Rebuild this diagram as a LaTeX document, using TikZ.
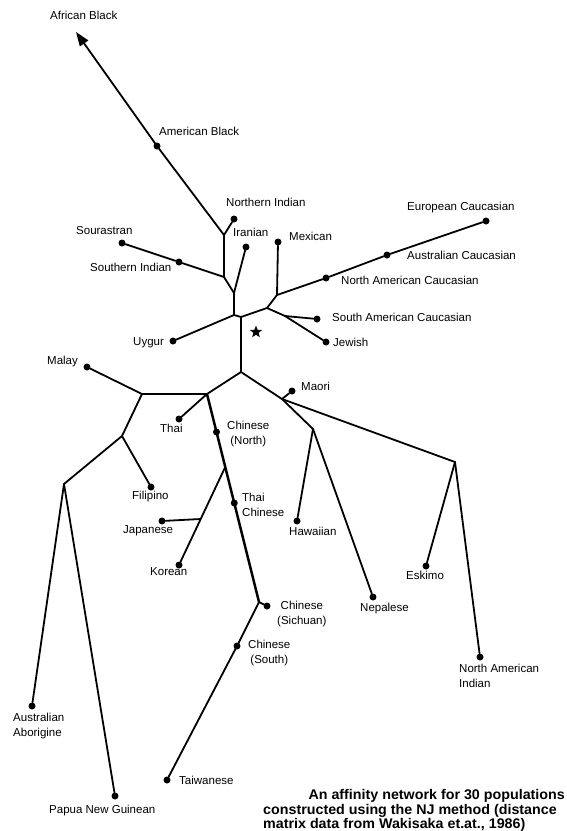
\documentclass[tikz,border=0pt]{standalone}
\usepackage{fontspec}
\setmainfont{Liberation Sans}
\usetikzlibrary{arrows.meta,shapes.geometric}
\begin{document}
\begin{tikzpicture}[x=1pt,y=-1pt,
  branch/.style={line width=1.8pt,line join=round,line cap=round},
  trunk/.style={line width=2.5pt,line join=round,line cap=round},
  dot/.style={circle,fill=black,inner sep=0pt,minimum size=7pt},
  lab/.style={font=\fontsize{11.5}{14}\selectfont,inner sep=0pt,anchor=mid west},
  lab2/.style={font=\fontsize{11.5}{14.5}\selectfont,inner sep=0pt,anchor=west},
  captext/.style={font=\fontsize{14}{15.5}\selectfont\bfseries,inner sep=0pt}]
\useasboundingbox (0,0) rectangle (566,831);
% junctions
\coordinate (tip) at (76,32);
\coordinate (A) at (224,235);
\coordinate (B) at (224,277);
\coordinate (C) at (234,293);
\coordinate (D) at (234,315);
\coordinate (E) at (241,317);
\coordinate (F) at (267,308);
\coordinate (G) at (277,295);
\coordinate (H) at (285,316);
\coordinate (K) at (241,372);
\coordinate (J) at (207,394);
\coordinate (I) at (142,394);
\coordinate (N) at (122,436);
\coordinate (O) at (64,484);
\coordinate (L) at (225.25,467);
\coordinate (M) at (200.5,519);
\coordinate (P) at (259,602);
\coordinate (Q) at (282,399);
\coordinate (R) at (313,429);
\coordinate (S) at (455,462);
% leaves
\node[dot] (amb) at (157,146) {};
\node[dot] (nind) at (234,219) {};
\node[dot] (sour) at (122,243) {};
\node[dot] (sind) at (179,262) {};
\node[dot] (iran) at (246,247) {};
\node[dot] (uyg) at (173,341) {};
\node[dot] (mex) at (278,242) {};
\node[dot] (nac) at (326,278) {};
\node[dot] (auc) at (387,255) {};
\node[dot] (euc) at (486,221) {};
\node[dot] (sac) at (317,319) {};
\node[dot] (jew) at (326,342) {};
\node[dot] (malay) at (87,367) {};
\node[dot] (thai) at (179,419) {};
\node[dot] (cn) at (216.5,432) {};
\node[dot] (tc) at (234.25,503) {};
\node[dot] (jap) at (162,521) {};
\node[dot] (kor) at (179,565) {};
\node[dot] (sich) at (267,606) {};
\node[dot] (cs) at (237,646) {};
\node[dot] (tai) at (167,780) {};
\node[dot] (fil) at (151,487) {};
\node[dot] (aa) at (32,706) {};
\node[dot] (png) at (115,796) {};
\node[dot] (maori) at (292,391) {};
\node[dot] (haw) at (297,521) {};
\node[dot] (nep) at (373,597) {};
\node[dot] (esk) at (426,566) {};
\node[dot] (nai) at (480,657) {};
\node[star,star points=5,star point ratio=2.4,fill=black,inner sep=0pt,minimum size=13pt] (star) at (256,332) {};
% connectors
\draw[branch,-{Triangle[length=14pt,width=10pt]}] (A) -- (amb.center) -- (tip);
\draw[branch] (nind) -- (A) -- (B) -- (C) -- (D) -- (E) -- (F) -- (G) -- (nac) -- (auc) -- (euc);
\draw[branch] (sour) -- (sind) -- (B);
\draw[branch] (iran) -- (C);
\draw[branch] (D) -- (uyg);
\draw[branch] (G) -- (mex);
\draw[branch] (F) -- (H) -- (jew);
\draw[branch] (H) -- (sac);
\draw[branch] (E) -- (K) -- (J) -- (I) -- (malay);
\draw[branch] (I) -- (N) -- (O) -- (aa);
\draw[branch] (O) -- (png);
\draw[branch] (N) -- (fil);
\draw[branch] (J) -- (thai);
\draw[trunk] (J) -- (P);
\draw[branch] (L) -- (kor);
\draw[branch] (M) -- (jap);
\draw[branch] (P) -- (sich);
\draw[branch] (P) -- (cs.center) -- (tai);
\draw[branch] (K) -- (Q) -- (S) -- (nai);
\draw[branch] (Q) -- (maori);
\draw[branch] (Q) -- (R) -- (haw);
\draw[branch] (R) -- (nep);
\draw[branch] (S) -- (esk);
% labels
\node[lab] (l-afb) at (50,17) {African Black};
\node[lab] (l-amb) at (159,133) {American Black};
\node[lab] (l-nind) at (226,204) {Northern Indian};
\node[lab] (l-iran) at (233,234) {Iranian};
\node[lab] (l-sour) at (76,232) {Sourastran};
\node[lab] (l-sind) at (90,269) {Southern Indian};
\node[lab] (l-uyg) at (133,343) {Uygur};
\node[lab] (l-mex) at (289,238) {Mexican};
\node[lab] (l-euc) at (407,208) {European Caucasian};
\node[lab] (l-auc) at (407,257) {Australian Caucasian};
\node[lab] (l-nac) at (341,282) {North American Caucasian};
\node[lab] (l-sac) at (332,319) {South American Caucasian};
\node[lab] (l-jew) at (333,344) {Jewish};
\node[lab] (l-malay) at (47,362) {Malay};
\node[lab] (l-maori) at (301,388) {Maori};
\node[lab] (l-thai) at (160,430) {Thai};
\node[lab2,align=center] (l-cn) at (227,434) {Chinese\\(North)};
\node[lab] (l-fil) at (132,497) {Filipino};
\node[lab2,align=left] (l-tc) at (242,505) {Thai\\Chinese};
\node[lab] (l-haw) at (289,533) {Hawaiian};
\node[lab] (l-jap) at (123,531) {Japanese};
\node[lab] (l-kor) at (150,573) {Korean};
\node[lab] (l-esk) at (406,577) {Eskimo};
\node[lab2,align=center] (l-sich) at (277,614) {Chinese\\(Sichuan)};
\node[lab] (l-nep) at (360,609) {Nepalese};
\node[lab2,align=center] (l-cs) at (248,653) {Chinese\\(South)};
\node[lab2,align=left] (l-nai) at (459,676) {North American\\Indian};
\node[lab2,align=left] (l-aa) at (13,726) {Australian\\Aborigine};
\node[lab] (l-tai) at (179,782) {Taiwanese};
\node[lab] (l-png) at (49,811) {Papua New Guinean};
% caption
\node[captext,anchor=base east] (cap1) at (565,799) {\scalebox{1.02}[1]{An affinity network for 30 populations}};
\node[captext,anchor=base west] (cap2) at (263,814) {\scalebox{1.02}[1]{constructed using the NJ method (distance}};
\node[captext,anchor=base west] (cap3) at (263,828) {\scalebox{1.02}[1]{matrix data from Wakisaka et.at., 1986)}};
\end{tikzpicture}
\end{document}
